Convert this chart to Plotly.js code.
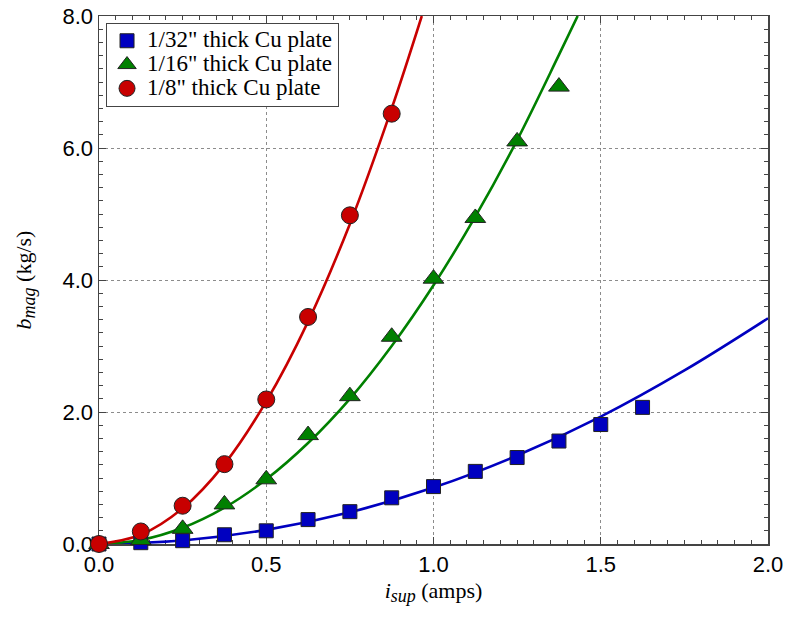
<!DOCTYPE html>
<html>
<head>
<meta charset="utf-8">
<script src="https://cdn.plot.ly/plotly-3.0.1.min.js"></script>
<style>
  html, body { margin: 0; padding: 0; background: #ffffff; }
  #chart { width: 791px; height: 617px; }
</style>
</head>
<body>
<div id="chart"></div>
<script>
// Supply current (amps) at which the damping was measured
const currentAmps = [0, 0.125, 0.25, 0.375, 0.5, 0.625, 0.75, 0.875, 1.0, 1.125, 1.25, 1.375, 1.5, 1.625];

// Measured magnetic damping b_mag (kg/s) for each plate thickness
const bThin   = [0, 0.02, 0.05, 0.14, 0.20, 0.37, 0.49, 0.70, 0.87, 1.10, 1.31, 1.56, 1.81, 2.07];
const bMedium = [0, 0.06, 0.23, 0.60, 0.98, 1.65, 2.24, 3.14, 4.02, 4.94, 6.10, 6.93];
const bThick  = [0, 0.19, 0.58, 1.21, 2.19, 3.44, 4.98, 6.52];

// Fitted curves, sampled along the current axis
const fitThinX   = [0, 0.25, 0.5, 0.75, 1.0, 1.25, 1.5, 1.75, 2.0];
const fitThinY   = [0, 0.053, 0.214, 0.48, 0.855, 1.34, 1.93, 2.63, 3.42];
const fitMediumX = [0, 0.125, 0.25, 0.375, 0.5, 0.625, 0.75, 0.875, 1.0, 1.125, 1.25, 1.375, 1.431];
const fitMediumY = [0, 0.06, 0.245, 0.55, 0.98, 1.53, 2.2, 3.0, 3.92, 4.96, 6.12, 7.41, 8.0];
const fitThickX  = [0, 0.125, 0.25, 0.375, 0.5, 0.625, 0.75, 0.875, 0.965];
const fitThickY  = [0, 0.14, 0.54, 1.21, 2.16, 3.37, 4.85, 6.6, 8.0];

const seriesNames = ['1/32" thick Cu plate', '1/16" thick Cu plate', '1/8" thick Cu plate'];

const BLUE = '#0000c0', GREEN = '#008000', RED = '#c80000';
const AXIS = '#444444';

function fitLine(x, y, color) {
  return {
    x: x, y: y, type: 'scatter', mode: 'lines',
    line: { color: color, width: 2.6, shape: 'spline', smoothing: 1 },
    showlegend: false, hoverinfo: 'skip'
  };
}

// Legend rows are kept tight; the entry text itself is set a bit larger
function legendLabel(name) {
  return '<span style="font-size:23px">' + name + '</span>';
}

function points(x, y, name, symbol, size, color) {
  return {
    x: x, y: y, name: legendLabel(name), type: 'scatter', mode: 'markers',
    cliponaxis: false,
    marker: { symbol: symbol, size: size, color: color, line: { color: '#222222', width: 1 } }
  };
}

const traces = [
  fitLine(fitThinX, fitThinY, BLUE),
  fitLine(fitMediumX, fitMediumY, GREEN),
  fitLine(fitThickX, fitThickY, RED),
  points(currentAmps.slice(0, bThin.length), bThin, seriesNames[0], 'square', 14, BLUE),
  points(currentAmps.slice(0, bMedium.length), bMedium, seriesNames[1], 'triangle-up', 18, GREEN),
  points(currentAmps.slice(0, bThick.length), bThick, seriesNames[2], 'circle', 17, RED)
];

const tickFont = { family: 'Liberation Sans, Arial, sans-serif', size: 22, color: '#000000' };
const serifFont = { family: 'Liberation Serif, Times New Roman, serif', size: 22, color: '#000000' };

function axisBase(range, dtick, minorDtick) {
  return {
    range: range, dtick: dtick, tick0: 0, tickformat: '.1f',
    ticks: 'inside', ticklen: 7, tickwidth: 1, tickcolor: AXIS,
    showline: true, linecolor: AXIS, linewidth: 1.5, mirror: 'ticks',
    showgrid: true, gridcolor: '#8c8c8c', griddash: 'dot', gridwidth: 1,
    zeroline: false, layer: 'below traces',
    tickfont: tickFont,
    minor: { dtick: minorDtick, tick0: 0, ticks: 'inside', ticklen: 4, tickwidth: 1, tickcolor: AXIS, showgrid: false }
  };
}

const xaxis = axisBase([0, 2], 0.5, 0.05);
xaxis.title = {
  text: '<i>i</i><sub><span style="font-size:18px"><i>sup</i></span></sub> (amps)',
  font: serifFont, standoff: 6
};

const yaxis = axisBase([0, 8], 2, 0.2);
yaxis.title = {
  text: '<i>b</i><sub><span style="font-size:18px"><i>mag</i></span></sub> (kg/s)',
  font: serifFont, standoff: 25
};

const layout = {
  width: 791, height: 617,
  margin: { l: 99, r: 23, t: 16, b: 73, pad: 0 },
  paper_bgcolor: '#ffffff', plot_bgcolor: '#ffffff',
  xaxis: xaxis, yaxis: yaxis,
  showlegend: true,
  legend: {
    x: 0.0105, y: 0.987, xanchor: 'left', yanchor: 'top',
    bgcolor: '#ffffff', bordercolor: AXIS, borderwidth: 1,
    font: { family: 'Liberation Serif, Times New Roman, serif', size: 16, color: '#000000' },
    itemsizing: 'trace', tracegroupgap: 0
  }
};

Plotly.newPlot('chart', traces, layout, { displayModeBar: false, staticPlot: true });
</script>
</body>
</html>
